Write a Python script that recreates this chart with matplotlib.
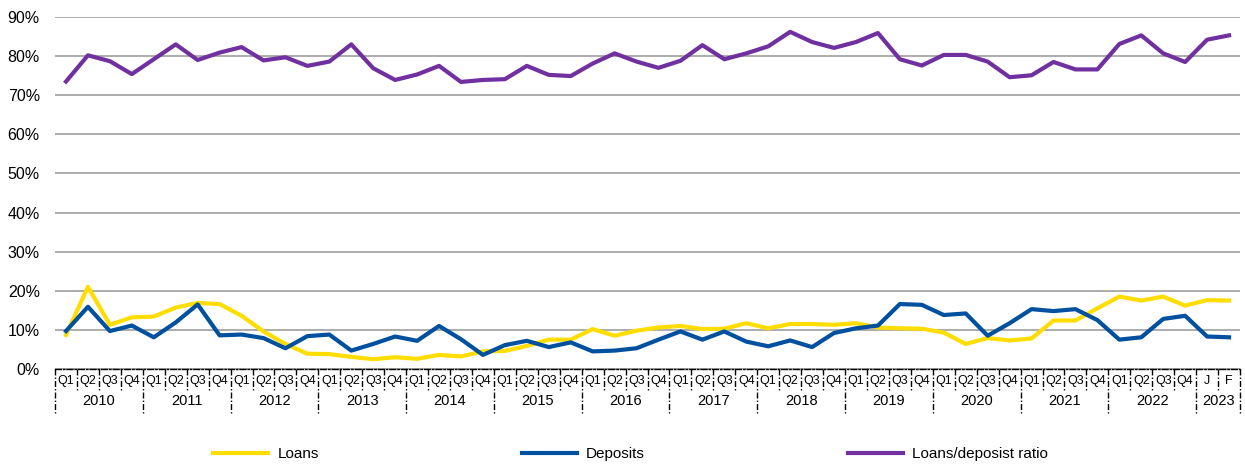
import matplotlib.pyplot as plt
from matplotlib.lines import Line2D

plt.rcParams['font.family'] = ['Liberation Sans', 'DejaVu Sans']

years = ["2010", "2011", "2012", "2013", "2014", "2015", "2016", "2017",
         "2018", "2019", "2020", "2021", "2022", "2023"]
quarters = ["Q1", "Q2", "Q3", "Q4"]
periods = quarters * 13 + ["J", "F"]

loans = [8.7, 21.0, 11.3, 13.2, 13.4, 15.7, 16.9, 16.6, 13.6, 9.6, 6.4, 3.9, 3.8,
         3.1, 2.5, 3.0, 2.6, 3.6, 3.2, 4.5, 4.6, 5.9, 7.5, 7.5, 10.2, 8.5, 9.8,
         10.6, 11.0, 10.2, 10.3, 11.7, 10.4, 11.5, 11.5, 11.3, 11.7, 10.6, 10.4,
         10.3, 9.3, 6.4, 7.9, 7.3, 7.8, 12.4, 12.4, 15.5, 18.5, 17.5, 18.5, 16.2,
         17.6, 17.5]
deposits = [9.7, 15.9, 9.7, 11.1, 8.1, 11.9, 16.5, 8.6, 8.8, 7.9, 5.3, 8.4, 8.8,
            4.7, 6.4, 8.3, 7.2, 11.0, 7.6, 3.6, 6.1, 7.2, 5.6, 6.8, 4.5, 4.7, 5.3,
            7.5, 9.6, 7.5, 9.6, 7.0, 5.8, 7.3, 5.6, 9.2, 10.4, 11.1, 16.6, 16.4,
            13.8, 14.2, 8.5, 11.7, 15.3, 14.8, 15.3, 12.5, 7.5, 8.1, 12.8, 13.6,
            8.3, 8.1]
ratio = [73.5, 80.2, 78.7, 75.4, 79.2, 83.0, 79.0, 80.9, 82.3, 78.9, 79.7, 77.5,
         78.6, 83.0, 76.9, 73.9, 75.3, 77.5, 73.4, 73.9, 74.1, 77.5, 75.2, 74.9,
         78.1, 80.7, 78.6, 77.0, 78.8, 82.8, 79.2, 80.7, 82.5, 86.2, 83.6, 82.1,
         83.6, 85.9, 79.2, 77.6, 80.3, 80.3, 78.6, 74.6, 75.1, 78.5, 76.6, 76.6,
         83.1, 85.3, 80.7, 78.5, 84.2, 85.3]

x = list(range(len(periods)))
dashdot = (0, (4.3, 1.5, 1, 1.5))

fig = plt.figure(figsize=(12.45, 4.67), dpi=100)
ax = fig.add_axes([0.0442, 0.2099, 0.9518, 0.7537])

ax.plot(x, [v / 100 for v in loans], color="#ffdd00", lw=3, label="Loans")
ax.plot(x, [v / 100 for v in deposits], color="#0050a0", lw=3, label="Deposits")
ax.plot(x, [v / 100 for v in ratio], color="#7030a0", lw=3, label="Loans/deposist ratio")

ax.set_xlim(-0.5, len(periods) - 0.5)
ax.set_ylim(0, 0.9)
ax.set_yticks([i / 10 for i in range(10)])
ax.set_yticklabels([f"{i * 10}%" for i in range(10)])
ax.yaxis.grid(True, color="#a6a6a6", lw=1.3)
ax.set_axisbelow(True)
ax.tick_params(axis="y", length=0, pad=11, labelsize=11.5)
ax.set_xticks([])
for s in ["top", "right", "left"]:
    ax.spines[s].set_visible(False)
ax.spines["bottom"].set_linestyle(dashdot)
ax.spines["bottom"].set_color("black")
ax.spines["bottom"].set_linewidth(1)

# category axis: quarter and year boxes
tr = ax.get_xaxis_transform()
for i, p in enumerate(periods):
    ax.text(i, -0.034, p, transform=tr, ha="center", va="center", fontsize=9)
starts = list(range(0, 53, 4)) + [len(periods)]
for k in range(len(periods) + 1):
    x0 = k - 0.5
    bottom = -0.125 if k in starts else -0.062
    ax.add_line(Line2D([x0, x0], [0, bottom], transform=tr, color="black",
                       lw=1, ls=dashdot, clip_on=False))
for j, yr in enumerate(years):
    mid = (starts[j] + starts[j + 1] - 1) / 2
    ax.text(mid, -0.091, yr, transform=tr, ha="center", va="center", fontsize=10.5)

fig.legend(loc="center left", bbox_to_anchor=(0.1663, 0.027), borderaxespad=0,
           ncol=3, frameon=False, fontsize=11, handlelength=3.6,
           handletextpad=0.6, columnspacing=13.3)

fig.savefig("out.png", dpi=100)
